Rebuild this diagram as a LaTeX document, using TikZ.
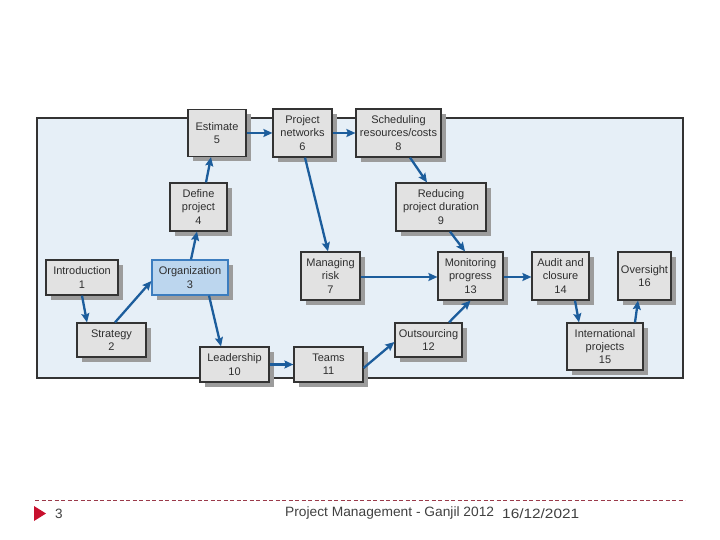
\documentclass[tikz,border=0pt]{standalone}
\usepackage{fontspec}
\setmainfont{Liberation Sans}
\usetikzlibrary{arrows.meta,shadows,calc}
\definecolor{panel}{HTML}{E6EFF7}
\definecolor{boxfill}{HTML}{E2E2E2}
\definecolor{boxline}{HTML}{333333}
\definecolor{shadowc}{HTML}{9C9C9C}
\definecolor{arrowc}{HTML}{1C5D9C}
\definecolor{orgfill}{HTML}{BCD6EE}
\definecolor{orgline}{HTML}{3C7DBF}
\definecolor{txt}{HTML}{2E2E2E}
\definecolor{footline}{HTML}{9A3A4A}
\definecolor{footred}{HTML}{C8102E}
\definecolor{foottxt}{HTML}{404040}
\tikzset{
  box/.style={draw=boxline, fill=boxfill, line width=1.2pt, align=center,
    inner sep=0pt, text=txt, font=\fontsize{11}{13.3}\selectfont,
    drop shadow={shadow xshift=5pt, shadow yshift=-5pt, fill=shadowc, opacity=1}},
  orgbox/.style={box, draw=orgline, fill=orgfill},
  flow/.style={draw=arrowc, line width=2.3pt, -{Stealth[length=9pt,width=8pt,inset=1.5pt]}},
  foot/.style={font=\fontsize{13.5}{14}\selectfont, text=foottxt, inner sep=0pt}
}
\begin{document}
\begin{tikzpicture}[x=1pt,y=-1pt]
\useasboundingbox (0,0) rectangle (720,540);
\draw[draw=boxline, fill=panel, line width=1.2pt] (37,118) rectangle (683,378);
% nodes
\node[box, minimum width=72pt, minimum height=35pt] (n1) at (82,277.5) {Introduction\\1};
\node[box, minimum width=69pt, minimum height=34pt] (n2) at (111.5,340) {Strategy\\2};
\node[orgbox, minimum width=76pt, minimum height=35pt] (n3) at (190,277.5) {Organization\\3};
\node[box, minimum width=57pt, minimum height=48pt] (n4) at (198.5,207) {Define\\project\\4};
\node[box, minimum width=58pt, minimum height=47pt] (n5) at (217,133) {Estimate\\5};
\node[box, minimum width=59pt, minimum height=48pt] (n6) at (302.5,133) {Project\\networks\\6};
\node[box, minimum width=59pt, minimum height=48pt] (n7) at (330.5,276) {Managing\\risk\\7};
\node[box, minimum width=85pt, minimum height=48pt] (n8) at (398.5,133) {Scheduling\\resources/costs\\8};
\node[box, minimum width=90pt, minimum height=48pt] (n9) at (441,207) {Reducing\\project duration\\9};
\node[box, minimum width=69pt, minimum height=35pt] (n10) at (234.5,364.5) {Leadership\\10};
\node[box, minimum width=69pt, minimum height=35pt] (n11) at (328.5,364.5) {Teams\\11};
\node[box, minimum width=67pt, minimum height=34pt] (n12) at (428.5,340) {Outsourcing\\12};
\node[box, minimum width=65pt, minimum height=48pt] (n13) at (470.5,276) {Monitoring\\progress\\13};
\node[box, minimum width=57pt, minimum height=48pt] (n14) at (560.5,276) {Audit and\\closure\\14};
\node[box, minimum width=76pt, minimum height=47pt] (n15) at (605,346.5) {International\\projects\\15};
\node[box, minimum width=53pt, minimum height=48pt] (n16) at (644.5,276) {Oversight\\16};
% connectors
\draw[flow] (n1.south) -- ([xshift=-24.5pt]n2.north);
\draw[flow] ([xshift=3.5pt]n2.north) -- ([yshift=-3.5pt]n3.west);
\draw[flow] ([xshift=1pt]n3.north) -- ([xshift=-1.5pt]n4.south);
\draw[flow] ([xshift=7.5pt]n4.north) -- ([xshift=-6pt]n5.south);
\draw[flow] (n5.east) -- (n6.west);
\draw[flow] (n6.east) -- (n8.west);
\draw[flow] ([xshift=2.5pt]n6.south) -- ([xshift=-2.5pt]n7.north);
\draw[flow] ([xshift=19pt]n3.south) -- ([xshift=-13.5pt]n10.north);
\draw[flow] (n10.east) -- (n11.west);
\draw[flow] ([yshift=-3.5pt]n11.east) -- ([yshift=-2pt]n12.west);
\draw[flow] ([xshift=20.5pt]n12.north) -- (n13.south);
\draw[flow] ([xshift=11.5pt]n8.south) -- ([xshift=-14pt]n9.north);
\draw[flow] ([xshift=9pt]n9.south) -- ([xshift=-5.5pt]n13.north);
\draw[flow] ([yshift=-1pt]n7.east) -- ([yshift=-1pt]n13.west);
\draw[flow] ([yshift=-1pt]n13.east) -- ([yshift=-1pt]n14.west);
\draw[flow] ([xshift=14.5pt]n14.south) -- ([xshift=-26pt]n15.north);
\draw[flow] ([xshift=30pt]n15.north) -- ([xshift=-6.5pt]n16.south);
% footer
\coordinate (fl) at (35,500);
\coordinate (fr) at (685,500);
\draw[footline, line width=0.8pt, dash pattern=on 4pt off 2.5pt] (fl) -- (fr);
\fill[footred] (34,506) -- (46,513.5) -- (34,521) -- cycle;
\node[foot, anchor=west] (pg) at (55,513.5) {3};
\node[foot, anchor=west] (ft) at (285,513.5) {\scalebox{1.02}[1]{Project Management - Ganjil 2012}};
\node[foot, anchor=west] (dt) at (502,513.5) {\scalebox{1.14}[1]{16/12/2021}};
\end{tikzpicture}
\end{document}
